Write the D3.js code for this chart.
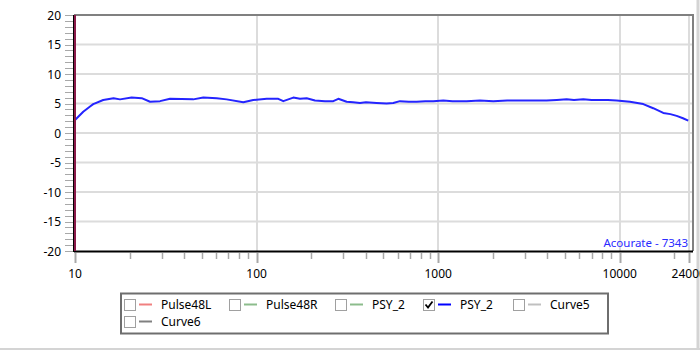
<!DOCTYPE html>
<html>
<head>
<meta charset="utf-8">
<script src="https://cdn.jsdelivr.net/npm/d3@7"></script>
<style>
    html, body { margin: 0; padding: 0; background: #fff; }
    svg { display: block; }
    text { font-family: "Segoe UI", "Noto Sans", "Open Sans", sans-serif; }
</style>
</head>
<body>
<svg id="chart" width="700" height="350"></svg>
<script>
// frequency (Hz) and level (dB)
const freqs = [10, 11.1, 12.1, 12.6, 14.3, 16.3, 17.7, 20.5, 23.3, 25.9, 29.4, 33.4, 44.8, 50.9, 60.3, 68.4,
    84.5, 95.9, 113.7, 131.7, 140.3, 159.3, 173.4, 188.8, 209.7, 238, 264.5, 281.8, 313.4, 340, 371, 400, 458,
    520, 566, 616, 690, 761, 850, 940, 1067, 1200, 1435, 1700, 2011, 2400, 2821, 3340, 3955, 4500, 5099,
    5600, 6296, 7000, 7782, 8600, 9612, 11380, 13475, 15290, 17365, 19000, 20580, 22300, 23830];
const levels = [2.2, 3.6, 4.5, 4.9, 5.6, 5.9, 5.7, 6.0, 5.9, 5.3, 5.4, 5.8, 5.7, 6.0, 5.9, 5.7,
    5.2, 5.6, 5.8, 5.8, 5.4, 6.0, 5.8, 5.9, 5.5, 5.4, 5.4, 5.8, 5.3, 5.2, 5.1, 5.2, 5.1,
    5.0, 5.1, 5.4, 5.3, 5.3, 5.4, 5.4, 5.5, 5.4, 5.4, 5.5, 5.4, 5.5, 5.5, 5.5, 5.5, 5.6, 5.7,
    5.6, 5.7, 5.6, 5.6, 5.6, 5.5, 5.3, 4.9, 4.2, 3.4, 3.2, 2.9, 2.5, 2.1];

const yTicks = [-20, -15, -10, -5, 0, 5, 10, 15, 20];
const xTicks = [10, 100, 1000, 10000, 24000];
const xTickLabels = ['10', '100', '1000', '10000', '24000'];

const legendNames = ['Pulse48L', 'Pulse48R', 'PSY_2', 'PSY_2', 'Curve5', 'Curve6'];
const legendColors = ['#f08080', '#8cbc8c', '#8cbc8c', '#0000ff', '#c0c0c0', '#808080'];
const legendChecked = [false, false, false, true, false, false];

const watermark = 'Acourate - 7343';

const svg = d3.select('#chart');
const LEFT = 75, RIGHT = 692, TOP = 15, BOTTOM = 251;

const x = d3.scaleLog().domain([10, 25000]).range([LEFT, RIGHT]);
const y = d3.scaleLinear().domain([-20, 20]).range([BOTTOM, TOP]);

const gridColor = '#dcdcdc';
const tickColor = '#a8a8a8';

// window edges
svg.append('rect').attr('x', 0).attr('y', 0).attr('width', 700).attr('height', 350).attr('fill', '#fff');
svg.append('line').attr('x1', 698).attr('x2', 698).attr('y1', 0).attr('y2', 350)
    .attr('stroke', '#d4d4d4').attr('stroke-width', 3);
svg.append('line').attr('x1', 0).attr('x2', 700).attr('y1', 349).attr('y2', 349)
    .attr('stroke', '#d4d4d4').attr('stroke-width', 2);

// grid
const grid = svg.append('g');
grid.selectAll('line.h')
    .data(yTicks.filter(d => d > -20 && d < 20))
    .join('line')
    .attr('x1', LEFT).attr('x2', RIGHT)
    .attr('y1', d => y(d)).attr('y2', d => y(d))
    .attr('stroke', gridColor).attr('stroke-width', 2);
grid.selectAll('line.v')
    .data(xTicks.filter(d => d > 10))
    .join('line')
    .attr('x1', d => Math.round(x(d))).attr('x2', d => Math.round(x(d)))
    .attr('y1', TOP).attr('y2', BOTTOM)
    .attr('stroke', gridColor).attr('stroke-width', 2);

// y ticks every 1 dB
svg.append('g').selectAll('line')
    .data(d3.range(-20, 21))
    .join('line')
    .attr('x1', 65).attr('x2', 73)
    .attr('y1', d => Math.round(y(d)) + 0.5).attr('y2', d => Math.round(y(d)) + 0.5)
    .attr('stroke', tickColor).attr('stroke-width', 1);

svg.append('g').selectAll('text')
    .data(yTicks)
    .join('text')
    .attr('x', 61)
    .attr('y', d => y(d) + 4.5)
    .attr('text-anchor', 'end')
    .style('font-size', '12px')
    .style('fill', '#000')
    .text(d => d);

// x ticks
const minor = [];
[10, 100, 1000, 10000].forEach(dec => {
    for (let k = 2; k <= 9; k++) if (dec * k <= 20000) minor.push(dec * k);
});
svg.append('g').selectAll('line')
    .data(minor)
    .join('line')
    .attr('x1', d => Math.round(x(d)) + 0.5).attr('x2', d => Math.round(x(d)) + 0.5)
    .attr('y1', 253).attr('y2', 259)
    .attr('stroke', tickColor).attr('stroke-width', 1.5);
svg.append('g').selectAll('line')
    .data(xTicks)
    .join('line')
    .attr('x1', d => Math.round(x(d)) + 0.5).attr('x2', d => Math.round(x(d)) + 0.5)
    .attr('y1', 253).attr('y2', 263)
    .attr('stroke', tickColor).attr('stroke-width', 2);

svg.append('g').selectAll('text')
    .data(xTicks)
    .join('text')
    .attr('x', d => x(d))
    .attr('y', 278)
    .attr('text-anchor', 'middle')
    .style('font-size', '12px')
    .style('fill', '#000')
    .text((d, i) => xTickLabels[i]);

// curve
const pts = freqs.map((f, i) => [f, levels[i]]);
svg.append('path')
    .datum(pts)
    .attr('fill', 'none')
    .attr('stroke', '#2424ff')
    .attr('stroke-width', 2)
    .attr('stroke-linejoin', 'round')
    .attr('d', d3.line().x(d => x(d[0])).y(d => y(d[1])));

// frame
svg.append('line').attr('x1', LEFT - 1).attr('x2', RIGHT + 1).attr('y1', TOP).attr('y2', TOP)
    .attr('stroke', '#808080').attr('stroke-width', 2);
svg.append('line').attr('x1', RIGHT + 1).attr('x2', RIGHT + 1).attr('y1', TOP - 1).attr('y2', BOTTOM)
    .attr('stroke', '#808080').attr('stroke-width', 2);
svg.append('line').attr('x1', LEFT - 1).attr('x2', RIGHT + 1).attr('y1', BOTTOM + 0.5).attr('y2', BOTTOM + 0.5)
    .attr('stroke', '#000').attr('stroke-width', 2);
svg.append('line').attr('x1', LEFT - 1.5).attr('x2', LEFT - 1.5).attr('y1', TOP).attr('y2', BOTTOM + 1)
    .attr('stroke', '#000').attr('stroke-width', 1);
svg.append('line').attr('x1', LEFT).attr('x2', LEFT).attr('y1', TOP).attr('y2', BOTTOM)
    .attr('stroke', '#8b1a4a').attr('stroke-width', 2);

svg.append('text')
    .attr('x', 688)
    .attr('y', 247)
    .attr('text-anchor', 'end')
    .style('font-size', '11.5px')
    .style('fill', '#2b2bff')
    .text(watermark);

// legend
const legendCols = [124, 229, 335, 423, 513];
const legendRows = [299, 316];
svg.append('rect')
    .attr('x', 121).attr('y', 293.5)
    .attr('width', 487).attr('height', 40)
    .attr('fill', '#fff')
    .attr('stroke', '#6e6e6e').attr('stroke-width', 2);

const items = svg.append('g').selectAll('g')
    .data(legendNames.map((name, i) => ({ name, color: legendColors[i], checked: legendChecked[i], i })))
    .join('g')
    .attr('transform', d => `translate(${legendCols[d.i % 5]},${legendRows[Math.floor(d.i / 5)]})`);

items.append('rect')
    .attr('x', 0.5).attr('y', 0.5)
    .attr('width', 11).attr('height', 11)
    .attr('fill', '#fff')
    .attr('stroke', '#a0a0a0');
items.filter(d => d.checked)
    .append('path')
    .attr('d', 'M2.5,5.5 L5,8.5 L9.5,2.5')
    .attr('fill', 'none')
    .attr('stroke', '#000')
    .attr('stroke-width', 1.8);
items.append('line')
    .attr('x1', 15).attr('x2', 28)
    .attr('y1', 5.5).attr('y2', 5.5)
    .attr('stroke', d => d.color)
    .attr('stroke-width', 2);
items.append('text')
    .attr('x', 37)
    .attr('y', 10)
    .style('font-size', '12px')
    .style('fill', '#000')
    .text(d => d.name);
</script>
</body>
</html>
